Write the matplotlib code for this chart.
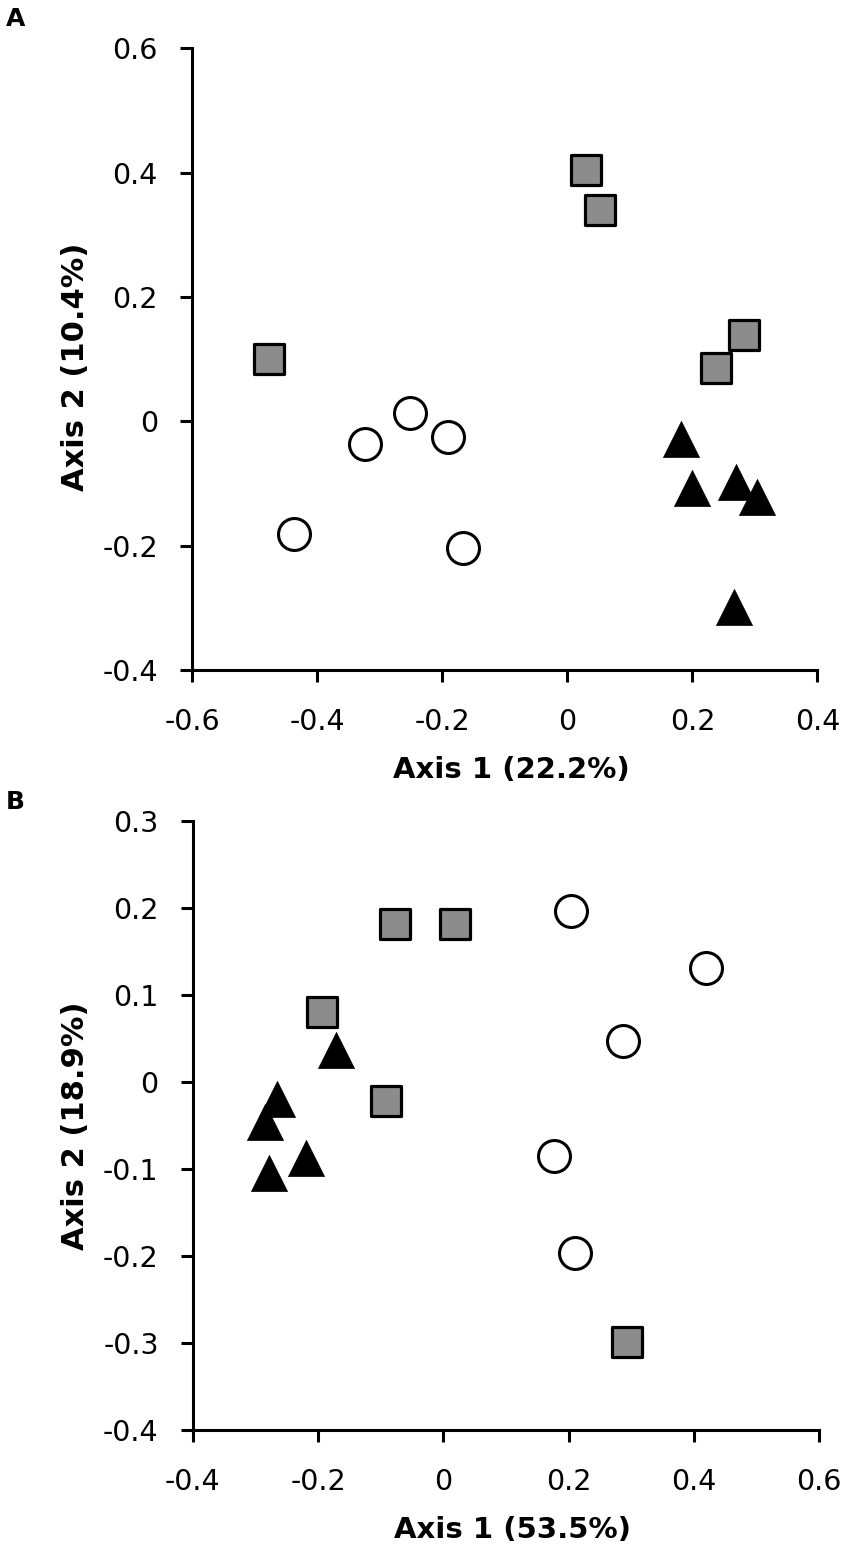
import matplotlib
matplotlib.use("Agg")
import matplotlib.pyplot as plt

plt.rcParams['font.family'] = ['DejaVu Sans']

# ---- Panel A data ----
a_sq_x = [0.030, 0.052, 0.282, 0.238, -0.477]
a_sq_y = [0.405, 0.340, 0.139, 0.085, 0.100]
a_ci_x = [-0.323, -0.252, -0.191, -0.437, -0.167]
a_ci_y = [-0.037, 0.013, -0.026, -0.182, -0.204]
a_tr_x = [0.182, 0.200, 0.269, 0.303, 0.266]
a_tr_y = [-0.029, -0.108, -0.097, -0.122, -0.298]
a_xticks = [-0.6, -0.4, -0.2, 0, 0.2, 0.4]
a_xlabels = ['-0.6', '-0.4', '-0.2', '0', '0.2', '0.4']
a_yticks = [-0.4, -0.2, 0, 0.2, 0.4, 0.6]
a_ylabels = ['-0.4', '-0.2', '0', '0.2', '0.4', '0.6']
a_xlabel = 'Axis 1 (22.2%)'
a_ylabel = 'Axis 2 (10.4%)'

# ---- Panel B data ----
b_sq_x = [-0.077, 0.019, -0.194, -0.091, 0.293]
b_sq_y = [0.182, 0.182, 0.081, -0.022, -0.299]
b_ci_x = [0.204, 0.420, 0.287, 0.177, 0.210]
b_ci_y = [0.196, 0.131, 0.047, -0.085, -0.196]
b_tr_x = [-0.172, -0.265, -0.284, -0.219, -0.279]
b_tr_y = [0.037, -0.020, -0.046, -0.087, -0.105]
b_xticks = [-0.4, -0.2, 0, 0.2, 0.4, 0.6]
b_xlabels = ['-0.4', '-0.2', '0', '0.2', '0.4', '0.6']
b_yticks = [-0.4, -0.3, -0.2, -0.1, 0, 0.1, 0.2, 0.3]
b_ylabels = ['-0.4', '-0.3', '-0.2', '-0.1', '0', '0.1', '0.2', '0.3']
b_xlabel = 'Axis 1 (53.5%)'
b_ylabel = 'Axis 2 (18.9%)'

W, H = 850, 1562
fig = plt.figure(figsize=(W / 100, H / 100), dpi=100)

def make_ax(l, r, t, b):
    return fig.add_axes([l / W, 1 - b / H, (r - l) / W, (b - t) / H])

axA = make_ax(192.0, 817.5, 48.3, 670.0)
axB = make_ax(192.7, 819.2, 821.0, 1430.0)

def style(ax, xt, xl, yt, yl, xlab, ylab, ylab_y):
    ax.set_xlim(xt[0], xt[-1])
    ax.set_ylim(yt[0], yt[-1])
    ax.set_xticks(xt)
    ax.set_xticklabels(xl)
    ax.set_yticks(yt)
    ax.set_yticklabels(yl)
    for s in ['top', 'right']:
        ax.spines[s].set_visible(False)
    for s in ['left', 'bottom']:
        ax.spines[s].set_linewidth(2.2)
        ax.spines[s].set_color('black')
    ax.tick_params(axis='both', direction='out', length=8.5, width=2.2,
                   labelsize=20.5, colors='black')
    ax.tick_params(axis='x', pad=18.5)
    ax.tick_params(axis='y', pad=16)
    ax.set_xlabel(xlab, fontsize=21, fontweight='bold', labelpad=15)
    ax.set_ylabel(ylab, fontsize=22, fontweight='bold', labelpad=9)
    ax.xaxis.label.set_x(0.511)
    ax.yaxis.label.set_y(ylab_y)
    ax.patch.set_alpha(0)

def draw(ax, sqx, sqy, cix, ciy, trx, try_):
    ax.scatter(sqx, sqy, marker='s', s=21.5 ** 2, facecolor='#8c8c8c',
               edgecolor='black', linewidth=2.3, zorder=3, clip_on=False)
    ax.scatter(cix, ciy, marker='o', s=23 ** 2, facecolor='white',
               edgecolor='black', linewidth=2.2, zorder=3, clip_on=False)
    ax.scatter(trx, try_, marker='^', s=26 ** 2, facecolor='black',
               edgecolor='black', linewidth=0.5, zorder=4, clip_on=False)

draw(axA, a_sq_x, a_sq_y, a_ci_x, a_ci_y, a_tr_x, a_tr_y)
style(axA, a_xticks, a_xlabels, a_yticks, a_ylabels, a_xlabel, a_ylabel, 0.487)
draw(axB, b_sq_x, b_sq_y, b_ci_x, b_ci_y, b_tr_x, b_tr_y)
style(axB, b_xticks, b_xlabels, b_yticks, b_ylabels, b_xlabel, b_ylabel, 0.5)

fig.text(6 / W, 1 - 19 / H, 'A', fontsize=18, fontweight='bold', va='center', ha='left')
fig.text(6 / W, 1 - 802 / H, 'B', fontsize=18, fontweight='bold', va='center', ha='left')

fig.savefig('out.png', dpi=100, facecolor='white')
